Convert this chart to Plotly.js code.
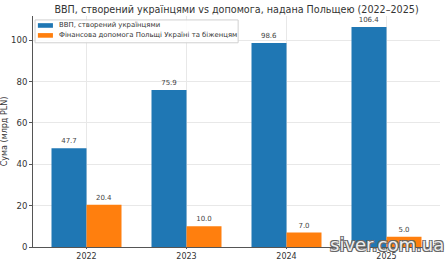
<!DOCTYPE html>
<html>
<head>
<meta charset="utf-8">
<script src="https://cdn.plot.ly/plotly-3.0.1.min.js"></script>
<style>html,body{margin:0;padding:0;background:#fff;}#chart{width:448px;height:261px;}</style>
</head>
<body>
<div id="chart"></div>
<script>
const years = ['2022', '2023', '2024', '2025'];
const gdpValues = [47.7, 75.9, 98.6, 106.4];
const aidValues = [20.4, 10.0, 7.0, 5.0];
const seriesNames = ['ВВП, створений українцями', 'Фінансова допомога Польщі Україні та біженцям'];
const seriesColors = ['#1f77b4', '#ff7f0e'];
const yTicks = [0, 20, 40, 60, 80, 100];

const font = 'DejaVu Sans, sans-serif';
const traces = [
  {type: 'bar', x: years, y: gdpValues, name: seriesNames[0], marker: {color: seriesColors[0]},
   texttemplate: '%{y:.1f}', textposition: 'outside', cliponaxis: false,
   textfont: {size: 7, color: '#444', family: font}},
  {type: 'bar', x: years, y: aidValues, name: seriesNames[1], marker: {color: seriesColors[1]},
   texttemplate: '%{y:.1f}', textposition: 'outside', cliponaxis: false,
   textfont: {size: 7, color: '#444', family: font}}
];

// Compact legend (matplotlib style) drawn with paper-referenced shapes and annotations
const legendShapes = [
  {type: 'rect', xref: 'paper', yref: 'paper', x0: 0.005, x1: 0.504, y0: 0.884, y1: 0.983,
   fillcolor: 'rgba(255,255,255,0.85)', line: {color: '#d0d0d0', width: 1}, layer: 'above'}
];
const legendAnn = [];
const rowY = [0.959, 0.916];
seriesNames.forEach((n, i) => {
  legendShapes.push({type: 'rect', xref: 'paper', yref: 'paper', x0: 0.012, x1: 0.049,
    y0: rowY[i] - 0.010, y1: rowY[i] + 0.010, fillcolor: seriesColors[i], line: {width: 0}, layer: 'above'});
  legendAnn.push({text: n, xref: 'paper', yref: 'paper', x: 0.058, y: rowY[i], xanchor: 'left', yanchor: 'middle',
    showarrow: false, font: {size: 6.9, color: '#333', family: font}});
});

const layout = {
  width: 448, height: 261,
  margin: {l: 33, r: 8, t: 16, b: 14},
  paper_bgcolor: '#fff', plot_bgcolor: '#fff',
  font: {family: font, color: '#333'},
  title: {text: 'ВВП, створений українцями vs допомога, надана Польщею (2022–2025)',
          font: {size: 9.6, color: '#333', family: font}, x: 0.528, xanchor: 'center', y: 0.962, yanchor: 'middle'},
  barmode: 'group', bargap: 0.3, bargroupgap: 0,
  showlegend: false,
  xaxis: {type: 'category', range: [-0.535, 3.535], showgrid: true, gridcolor: '#e8e8e8',
          showline: true, linecolor: '#555', linewidth: 1, ticks: 'outside', ticklen: 1, tickcolor: '#555',
          tickfont: {size: 8, color: '#333'}, fixedrange: true},
  yaxis: {range: [0, 111.7], tickvals: yTicks, showgrid: true, gridcolor: '#e8e8e8', zeroline: false,
          showline: true, linecolor: '#555', linewidth: 1, ticks: 'outside', ticklen: 3, tickcolor: '#555',
          tickfont: {size: 8.5, color: '#333'},
          title: {text: 'Сума (млрд PLN)', font: {size: 8, color: '#333'}, standoff: 6}},
  shapes: legendShapes,
  annotations: legendAnn.concat([
    {text: 'siver.com.ua', xref: 'paper', yref: 'paper', x: 0.87, y: 0.012, xanchor: 'center', yanchor: 'middle',
     showarrow: false, font: {size: 18, color: '#eeeeee', family: font,
       shadow: '1px 1px 0 #666, -1px -1px 0 #666, 1px -1px 0 #666, -1px 1px 0 #666'}}
  ])
};
Plotly.newPlot('chart', traces, layout, {displayModeBar: false, staticPlot: true});
</script>
</body>
</html>
